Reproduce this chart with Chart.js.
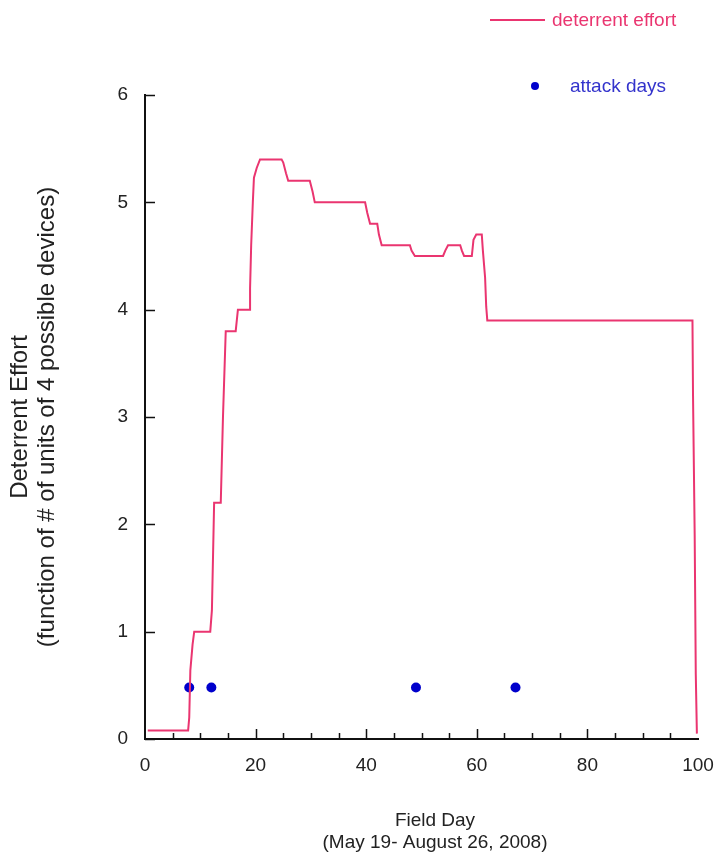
<!DOCTYPE html>
<html>
<head>
<meta charset="utf-8">
<script src="https://cdn.jsdelivr.net/npm/chart.js@4"></script>
<style>
  html, body { margin: 0; padding: 0; background: #fff; }
  #wrap { width: 715px; height: 857px; }
</style>
</head>
<body>
<div id="wrap"><canvas id="effort" width="715" height="857"></canvas></div>
<script>
const effortDays = [0.5, 7.8, 8.0, 8.2, 8.6, 8.9, 11.8, 12.1, 12.5, 13.7, 14.1, 14.6, 15.2,
    16.4, 16.8, 19.0, 19.0, 19.2, 19.5, 19.7, 20.2, 20.8, 24.7, 25.0, 25.5, 25.9, 29.8,
    30.3, 30.7, 39.8, 40.2, 40.7, 42.0, 42.3, 42.8, 47.9, 48.2, 48.8, 53.9, 54.3, 54.8,
    57.0, 57.3, 57.7, 59.1, 59.4, 59.9, 60.9, 61.1, 61.5, 61.7, 61.9, 99.0, 99.1, 99.4,
    99.6, 99.8];
const effortValues = [0.08, 0.08, 0.2, 0.64, 0.88, 1.0, 1.0, 1.2, 2.2, 2.2, 3.0, 3.8, 3.8,
    3.8, 4.0, 4.0, 4.2, 4.6, 5.0, 5.23, 5.32, 5.4, 5.4, 5.37, 5.27, 5.2, 5.2,
    5.1, 5.0, 5.0, 4.9, 4.8, 4.8, 4.7, 4.6, 4.6, 4.55, 4.5, 4.5, 4.55, 4.6,
    4.6, 4.55, 4.5, 4.5, 4.65, 4.7, 4.7, 4.55, 4.3, 4.03, 3.9, 3.9, 3.2, 1.9,
    0.6, 0.05];
const attackDays = [8, 12, 49, 67];
const attackLevel = [0.48, 0.48, 0.48, 0.48];
const xTicks = [0, 20, 40, 60, 80, 100];
const yTicks = [0, 1, 2, 3, 4, 5, 6];
const xTitle = ["Field Day", "(May 19- August 26, 2008)"];

const lineColor = "#ea3570";
const dotColor = "#0000cc";
const font = "'Liberation Sans', Arial, sans-serif";

// inward ticks, x title and hand placed legend
const extras = {
    id: "extras",
    afterDraw(chart) {
        const ctx = chart.ctx;
        const xs = chart.scales.x;
        const ys = chart.scales.y;
        const left = chart.chartArea.left;
        const bottom = chart.chartArea.bottom;
        ctx.save();
        ctx.strokeStyle = "#111";
        ctx.lineWidth = 1.5;
        ctx.beginPath();
        yTicks.forEach(v => {
            const py = Math.round(ys.getPixelForValue(v)) + 0.5;
            ctx.moveTo(left, py);
            ctx.lineTo(left + 10, py);
        });
        for (let v = 5; v < 100; v += 5) {
            const px = Math.round(xs.getPixelForValue(v)) + 0.5;
            const len = v % 20 === 0 ? 10 : 6;
            ctx.moveTo(px, bottom);
            ctx.lineTo(px, bottom - len);
        }
        ctx.stroke();

        ctx.font = "19px " + font;
        ctx.textBaseline = "middle";
        ctx.fillStyle = "#222";
        ctx.textAlign = "center";
        ctx.fillText(xTitle[0], 435, 821);
        ctx.fillText(xTitle[1], 435, 843);

        ctx.textAlign = "left";
        ctx.strokeStyle = lineColor;
        ctx.lineWidth = 2;
        ctx.beginPath();
        ctx.moveTo(490, 20);
        ctx.lineTo(545, 20);
        ctx.stroke();
        ctx.fillStyle = lineColor;
        ctx.fillText("deterrent effort", 552, 21);

        ctx.fillStyle = dotColor;
        ctx.beginPath();
        ctx.arc(535, 86, 4, 0, Math.PI * 2);
        ctx.fill();
        ctx.fillStyle = "#3333cc";
        ctx.fillText("attack days", 570, 87);
        ctx.restore();
    }
};

new Chart(document.getElementById("effort"), {
    type: "line",
    data: {
        datasets: [
            {
                label: "deterrent effort",
                data: effortDays.map((d, i) => ({ x: d, y: effortValues[i] })),
                borderColor: lineColor,
                borderWidth: 2,
                pointRadius: 0,
                tension: 0,
                fill: false,
            },
            {
                label: "attack days",
                data: attackDays.map((d, i) => ({ x: d, y: attackLevel[i] })),
                showLine: false,
                pointRadius: 5,
                pointBackgroundColor: dotColor,
                pointBorderColor: dotColor,
                borderWidth: 0,
            },
        ],
    },
    options: {
        responsive: false,
        animation: false,
        layout: { padding: { top: 95, right: 17, left: 0, bottom: 0 } },
        plugins: {
            legend: { display: false },
            tooltip: { enabled: false },
        },
        scales: {
            x: {
                type: "linear",
                min: 0,
                max: 100,
                afterFit: s => {
                    s.height = 118;
                    s.paddingLeft = 0;
                    s.paddingRight = 0;
                },
                afterBuildTicks: s => { s.ticks = xTicks.map(v => ({ value: v })); },
                grid: { display: false, drawTicks: false },
                border: { display: true, color: "#111", width: 2 },
                ticks: {
                    padding: 15,
                    color: "#222",
                    maxRotation: 0,
                    font: { family: font, size: 19 },
                },
            },
            y: {
                min: 0,
                max: 6,
                afterFit: s => {
                    s.width = 145;
                    s.paddingTop = 0;
                    s.paddingBottom = 0;
                },
                afterBuildTicks: s => { s.ticks = yTicks.map(v => ({ value: v })); },
                grid: { display: false, drawTicks: false },
                border: { display: true, color: "#111", width: 2 },
                ticks: {
                    padding: 17,
                    color: "#222",
                    font: { family: font, size: 19 },
                },
                title: {
                    display: true,
                    text: ["Deterrent Effort", "(function of # of units of 4 possible devices)"],
                    color: "#222",
                    font: { family: font, size: 24, lineHeight: 1.12 },
                    padding: { top: 7, bottom: 0 },
                },
            },
        },
    },
    plugins: [extras],
});
</script>
</body>
</html>
